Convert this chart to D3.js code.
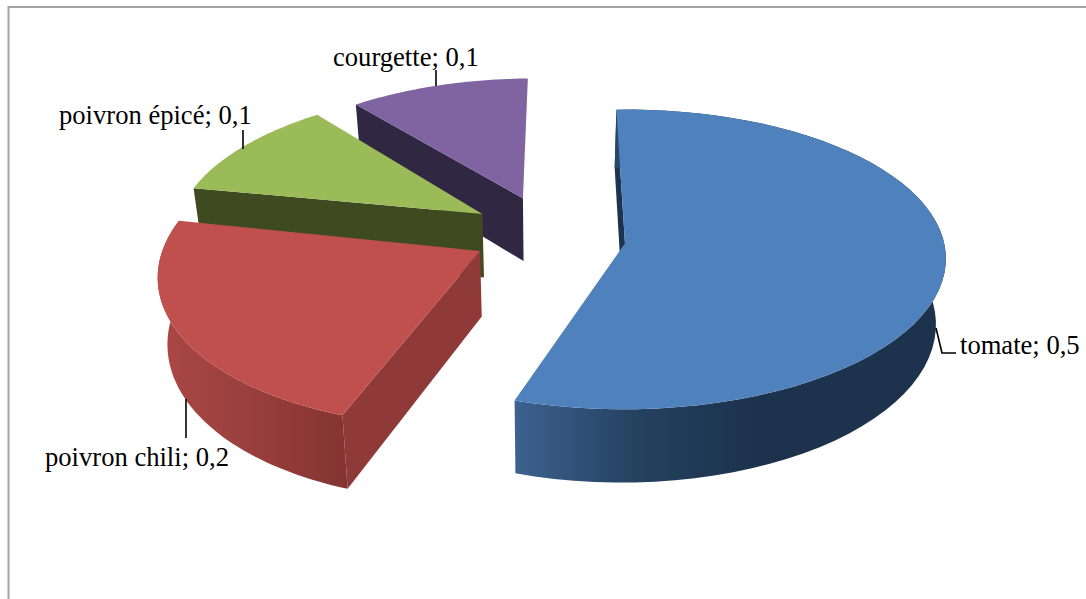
<!DOCTYPE html>
<html><head><meta charset="utf-8">
<script src="https://cdn.jsdelivr.net/npm/d3@7"></script>
<style>html,body{margin:0;padding:0;background:#fff;overflow:hidden}svg{display:block}
text{font-family:"Liberation Serif",serif;font-size:26.6px;fill:#000}</style></head>
<body><svg id="c" width="1086" height="599"></svg>
<script>
const categories = ["tomate","poivron chili","poivron épicé","courgette"];
const values = [0.5,0.2,0.1,0.1];
const valueLabels = ["0,5","0,2","0,1","0,1"];
const topColors = ["#4f81bd","#c0504d","#9bbb59","#8064a2"];
const faceColors = ["#1c3450","#8f3a38","#404a21","#302743"];
const rimStops = [["#3d6290","#24415f","#1c324d"],["#aa4845","#983f3d","#843432"]];
const labelPos = [[960,354],[45,466],[59,124],[333,66]];
const leaders = [[[936,328],[942,353],[956,353]],[[186,399],[186,438]],[[243,130],[243,149]],[[436,70],[436,86]]];
const nudgeStart = [-0.5,1,2.5,1.5];
const nudgeEnd = [-0.7,3,2.5,0.3];
const radial = [1,0.99,0.97,0.95];
const stretchY = [1,1.05,1,1];
const lift = [0,0.04,0.05,0.05];

const cx=640, cy=238, Rx=318, Ry=147, k=0.107, explode=0.245, u0=(548-640)/318;
const startDeg=-1.5;
const svg=d3.select("#c");
const defs=svg.append("defs");
svg.append("rect").attr("x",8.5).attr("y",7).attr("width",1200).attr("height",800)
  .attr("fill","#fff").attr("stroke","#a3a3a3").attr("stroke-width",2);

const pie=d3.pie().sort(null).startAngle(startDeg*Math.PI/180).endAngle((startDeg+360)*Math.PI/180);
const arcs=pie(values);
const proj=(u,v)=>{const w=1-k*v;return [cx+Rx*(u+u0)/w,cy+Ry*v/w];};
const down=p=>[548+(p[0]-548)*0.975,p[1]+65+0.05*(p[1]-243)];
const line=d3.line();
[3,2,1,0].forEach(i=>{
  const a=arcs[i],mid=(a.startAngle+a.endAngle)/2,r=radial[i];
  const a0=a.startAngle+nudgeStart[i]*Math.PI/180,a1=a.endAngle+nudgeEnd[i]*Math.PI/180;
  const ax=explode*Math.sin(mid),ay=-explode*Math.cos(mid)-lift[i];
  const pt=t=>proj(ax+r*Math.sin(t),ay-r*stretchY[i]*Math.cos(t));
  const apex=proj(ax,ay);
  const rim=d3.range(0,1.0001,1/60).map(f=>pt(a0+f*(a1-a0)));
  const g=svg.append("g");
  g.append("path").attr("d",line([apex,rim[0],down(rim[0]),down(apex)])+"Z").attr("fill",faceColors[i]);
  if(rimStops[i]){
    const id="rim"+i;
    const gr=defs.append("linearGradient").attr("id",id).attr("gradientUnits","userSpaceOnUse")
      .attr("x1",i==0?515:160).attr("x2",i==0?760:345).attr("y1",0).attr("y2",0);
    rimStops[i].forEach((c,j)=>gr.append("stop").attr("offset",j/2).attr("stop-color",c));
    g.append("path").attr("d",line(rim.concat(rim.map(down).reverse()))+"Z").attr("fill",`url(#${id})`);
  }
  g.append("path").attr("d",line([apex].concat(rim))+"Z").attr("fill",topColors[i]);
});
leaders.forEach(l=>svg.append("path").attr("d",line(l)).attr("fill","none").attr("stroke","#000").attr("stroke-width",1.6));
categories.forEach((c,i)=>svg.append("text").attr("x",labelPos[i][0]).attr("y",labelPos[i][1]).text(`${c}; ${valueLabels[i]}`));
</script></body></html>
